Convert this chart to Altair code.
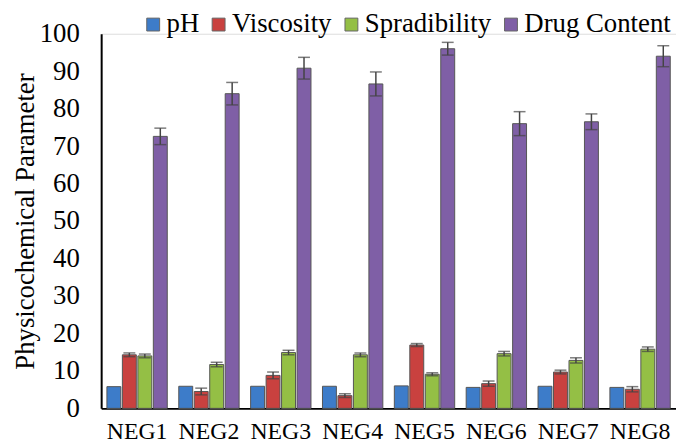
import altair as alt
import pandas as pd

categories = ["NEG1", "NEG2", "NEG3", "NEG4", "NEG5", "NEG6", "NEG7", "NEG8"]
series = ["pH", "Viscosity", "Spradibility", "Drug Content"]

ph = [5.8, 5.9, 5.9, 5.9, 6.0, 5.6, 5.9, 5.6]
ph_err = [0.0, 0.0, 0.0, 0.0, 0.0, 0.0, 0.0, 0.0]
viscosity = [14.3, 4.5, 8.8, 3.4, 16.9, 6.6, 9.7, 5.1]
viscosity_err = [0.5, 0.9, 0.9, 0.5, 0.4, 0.7, 0.5, 0.7]
spradibility = [14.0, 11.7, 14.9, 14.3, 9.1, 14.6, 12.8, 15.8]
spradibility_err = [0.5, 0.6, 0.6, 0.5, 0.4, 0.6, 0.7, 0.6]
drug_content = [72.6, 84.0, 90.8, 86.6, 96.0, 76.0, 76.5, 94.0]
drug_content_err = [2.2, 3.0, 2.9, 3.2, 1.7, 3.2, 2.1, 2.8]

colors = ["#3d7cc9", "#c9413f", "#94bf45", "#7f5fa6"]

values = [ph, viscosity, spradibility, drug_content]
errors = [ph_err, viscosity_err, spradibility_err, drug_content_err]

rows = []
for s, vals, errs in zip(series, values, errors):
    for c, v, e in zip(categories, vals, errs):
        rows.append({"category": c, "series": s, "value": v, "err": e,
                     "lo": v - e, "hi": v + e})
df = pd.DataFrame(rows)

FONT = "Liberation Serif"

x_axis = alt.Axis(title=None, labelAngle=0, ticks=False, domain=True,
                  domainColor="black", domainWidth=2, labelFont=FONT,
                  labelFontSize=24, labelColor="black", labelPadding=11)
y_axis = alt.Axis(values=list(range(0, 101, 10)), grid=False, ticks=False,
                  domain=True, domainColor="black", domainWidth=2,
                  labelFont=FONT, labelFontSize=27, labelColor="black",
                  labelOverlap=False, labelPadding=22, labelBound=False,
                  title="Physicochemical Parameter",
                  titleFont=FONT, titleFontSize=27, titleFontWeight="normal",
                  titleColor="black", titlePadding=0)

x_scale = alt.Scale(paddingInner=0.16, paddingOuter=0.08)
y_scale = alt.Scale(domain=[0, 100], nice=False)
xoff = alt.XOffset("series:N", sort=series,
                   scale=alt.Scale(paddingInner=0.1, paddingOuter=0))

bars = alt.Chart(df).mark_bar(stroke="#555555", strokeWidth=1).encode(
    x=alt.X("category:N", sort=categories, scale=x_scale, axis=x_axis),
    xOffset=xoff,
    y=alt.Y("value:Q", scale=y_scale, axis=y_axis),
    color=alt.Color("series:N", sort=series,
                    scale=alt.Scale(domain=series, range=colors),
                    legend=alt.Legend(orient="none", legendX=33, legendY=-23,
                                      direction="horizontal", title=None,
                                      symbolType="square", symbolSize=169,
                                      symbolOffset=6,
                                      symbolStrokeColor="#666666", symbolStrokeWidth=1,
                                      labelFont=FONT, labelFontSize=27,
                                      labelColor="black", labelOffset=0,
                                      columnPadding=0, padding=0)),
)

err_df = df[df["err"] > 0]

rules = alt.Chart(err_df).mark_rule(color="#444444", strokeWidth=1.5).encode(
    x=alt.X("category:N", sort=categories, scale=x_scale, axis=x_axis),
    xOffset=xoff,
    y=alt.Y("lo:Q", scale=y_scale, axis=y_axis),
    y2="hi:Q",
)
cap_hi = alt.Chart(err_df).mark_tick(color="#444444", thickness=1.5, size=12,
                                     orient="horizontal").encode(
    x=alt.X("category:N", sort=categories, scale=x_scale, axis=x_axis),
    xOffset=xoff,
    y=alt.Y("hi:Q", scale=y_scale, axis=y_axis),
)
cap_lo = alt.Chart(err_df).mark_tick(color="#444444", thickness=1.5, size=12,
                                     orient="horizontal").encode(
    x=alt.X("category:N", sort=categories, scale=x_scale, axis=x_axis),
    xOffset=xoff,
    y=alt.Y("lo:Q", scale=y_scale, axis=y_axis),
)

chart = alt.layer(bars, rules, cap_hi, cap_lo).properties(
    width=580, height=378,
    autosize=alt.AutoSizeParams(type="none"),
    padding={"left": 94, "top": 24, "right": 0, "bottom": 36},
).configure_view(stroke=None).configure(background="white")

chart.save("out.html", embed_options={"renderer": "svg", "actions": False})
